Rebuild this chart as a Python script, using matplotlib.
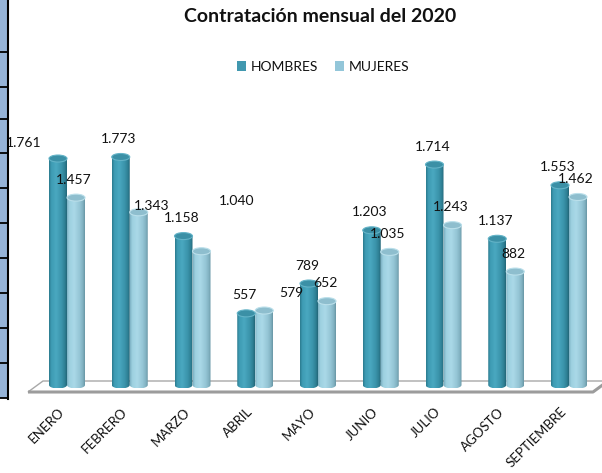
import numpy as np
import matplotlib
matplotlib.use('Agg')
import matplotlib.pyplot as plt
from matplotlib.patches import Ellipse, Patch, PathPatch, Polygon, Rectangle
from matplotlib.lines import Line2D
from matplotlib.path import Path
from matplotlib.colors import LinearSegmentedColormap

# ---------------- data ----------------
months = ['ENERO', 'FEBRERO', 'MARZO', 'ABRIL', 'MAYO', 'JUNIO', 'JULIO', 'AGOSTO', 'SEPTIEMBRE']
hombres = [1761, 1773, 1158, 557, 789, 1203, 1714, 1137, 1553]
mujeres = [1457, 1343, 1040, 579, 652, 1035, 1243, 882, 1462]
series_names = ['HOMBRES', 'MUJERES']
title = 'Contratación mensual del 2020'

# ---------------- layout / style ----------------
FONT = ['Lato', 'DejaVu Sans']
plt.rcParams['font.family'] = FONT
W, H = 602, 473
fig = plt.figure(figsize=(6.02, 4.73), dpi=100)
fig.patch.set_facecolor('white')

PX_PER_UNIT = 0.1286
GROUP_PX = 62.75
X0_PX = 67
ZERO_PY = 385
AX_BOTTOM_PY = 400
AX_TOP_PY = 90

ax = fig.add_axes([0, (H - AX_BOTTOM_PY) / H, 1, (AX_BOTTOM_PY - AX_TOP_PY) / H])
ax.patch.set_visible(False)
for s in ax.spines.values():
    s.set_visible(False)

def px2data(px, py):
    return (px - X0_PX) / GROUP_PX, (ZERO_PY - py) / PX_PER_UNIT

BAR_W = 18 / GROUP_PX
CAP_H = 7 / PX_PER_UNIT

cmap_h = LinearSegmentedColormap.from_list('h', [
    (0.0, '#2B7A8E'), (0.12, '#3D9BB3'), (0.4, '#4AA8C0'),
    (0.72, '#3A93AA'), (0.9, '#2D7E92'), (1.0, '#236678')])
cmap_m = LinearSegmentedColormap.from_list('m', [
    (0.0, '#7DB2C4'), (0.12, '#9DD0E0'), (0.4, '#AAD9E8'),
    (0.72, '#94C5D5'), (0.9, '#80B0C0'), (1.0, '#6895A4')])
cap_face = ['#3B90A6', '#8EBECE']
cap_edge = ['#63B3C7', '#BADFEA']
legend_colors = ['#4198AF', '#93C6D9']
cmaps = [cmap_h, cmap_m]

def cylinder(xc, val, cmap, cface, cedge):
    x0, x1 = xc - BAR_W / 2, xc + BAR_W / 2
    th = np.linspace(np.pi, 2 * np.pi, 40)
    bx = xc + (BAR_W / 2) * np.cos(th)
    by = (CAP_H / 2) * np.sin(th)
    verts = [(x0, val)] + list(zip(bx, by)) + [(x1, val), (x0, val)]
    codes = [Path.MOVETO] + [Path.LINETO] * (len(bx) + 1) + [Path.CLOSEPOLY]
    clip = PathPatch(Path(verts, codes), facecolor='none', edgecolor='none')
    ax.add_patch(clip)
    grad = np.linspace(0, 1, 64).reshape(1, -1)
    im = ax.imshow(grad, cmap=cmap, extent=[x0, x1, -CAP_H / 2, val],
                   aspect='auto', origin='lower', interpolation='bilinear', zorder=2)
    im.set_clip_path(clip)
    ax.add_patch(Ellipse((xc, val), BAR_W, CAP_H, facecolor=cface,
                         edgecolor=cedge, lw=0.8, zorder=3))

# floor
floor_px = [(28, 392), (593, 392), (608, 381), (43, 381)]
floor = [px2data(*p) for p in floor_px]
ax.add_patch(Polygon(floor, closed=True, facecolor='white', edgecolor='#A8A8A8', lw=1.0, zorder=1))
ax.plot([floor[0][0], floor[1][0], floor[2][0]], [floor[0][1], floor[1][1], floor[2][1]],
        color='#9C9C9C', lw=2.2, zorder=1, solid_capstyle='butt')

offsets = [-BAR_W / 2, BAR_W / 2]
series = [hombres, mujeres]
x = np.arange(len(months))
for i in range(len(months)):
    for k in range(2):
        cylinder(x[i] + offsets[k], series[k][i], cmaps[k], cap_face[k], cap_edge[k])

# data labels (pixel offsets from bar top centre)
default_off = (-2, 18)
special_off = {(0, 0): (-34, 16), (1, 1): (13, 6), (1, 2): (35, 50), (1, 3): (27, 18)}
for k in range(2):
    for i, v in enumerate(series[k]):
        dx, dy = special_off.get((k, i), default_off)
        lx = x[i] + offsets[k] + dx / GROUP_PX
        ly = v + dy / PX_PER_UNIT
        ax.text(lx, ly, f'{v:,}'.replace(',', '.'), ha='center', va='center',
                fontsize=10, color='#111111', zorder=5)

ax.set_xlim(-X0_PX / GROUP_PX, (W - X0_PX) / GROUP_PX)
ax.set_ylim((ZERO_PY - AX_BOTTOM_PY) / PX_PER_UNIT, (ZERO_PY - AX_TOP_PY) / PX_PER_UNIT)
ax.set_yticks([])
ax.set_xticks(x - 0.07, months)
ax.tick_params(axis='x', length=0, pad=7, labelsize=9.5, labelcolor='#111111')
plt.setp(ax.get_xticklabels(), rotation=45, ha='right', va='center', rotation_mode='anchor')

# title & legend
fig.text(320 / W, 1 - 17 / H, title, ha='center', va='center', fontsize=14,
         fontweight='bold', color='#111111')
handles = [Patch(facecolor=c, edgecolor='none') for c in legend_colors]
fig.legend(handles, series_names, loc='center', bbox_to_anchor=(323.5 / W, 1 - 67 / H),
           ncol=2, frameon=False, fontsize=10, handlelength=0.65, handleheight=0.65,
           handletextpad=0.35, columnspacing=1.2, labelcolor='#111111')

# left strip (cut-off table fragment)
fig.add_artist(Rectangle((0, 1 - 398 / H), 7 / W, 398 / H, transform=fig.transFigure,
                         facecolor='#95B3D7', edgecolor='none', zorder=10))
fig.add_artist(Line2D([7.5 / W, 7.5 / W], [1, 1 - 399 / H], transform=fig.transFigure,
                      color='black', lw=1.5, zorder=11))
for yl in [52, 87, 119, 153, 188, 223, 258, 293, 328, 363, 398]:
    fig.add_artist(Line2D([0, 8 / W], [1 - yl / H, 1 - yl / H], transform=fig.transFigure,
                          color='black', lw=1.3, zorder=11))

fig.savefig('out.png', dpi=100)
